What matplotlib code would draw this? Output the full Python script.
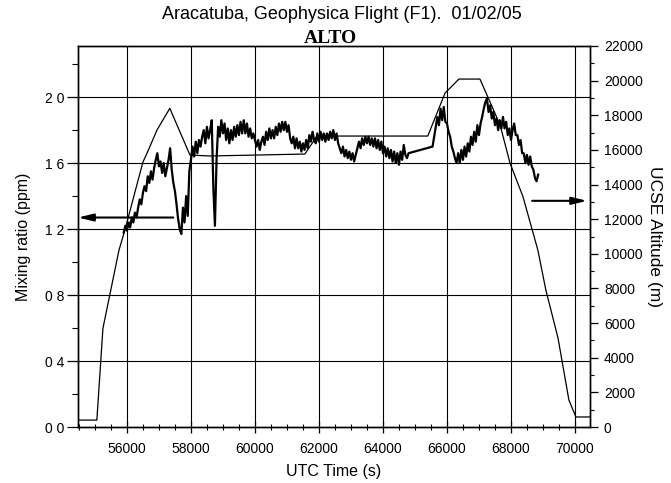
import matplotlib
matplotlib.use("Agg")
import matplotlib.pyplot as plt
import numpy as np
from matplotlib.ticker import MultipleLocator, FixedLocator, FuncFormatter

# UCSE altitude track: time (s UTC) and altitude (m)
ALT_TIME = [54500, 55060, 55250, 55750, 55940, 56500, 56625, 56940, 57340, 57970,
            58600, 61560, 61940, 65400, 65940, 66375, 67030, 67250, 67660, 67970,
            68375, 68840, 69090, 69470, 69810, 70030, 70500]
ALT_M = [400, 400, 5700, 10200, 11400, 15300, 15800, 17150, 18400, 15700,
         15650, 15760, 16800, 16800, 19280, 20090, 20090, 19170, 17440, 15240,
         13300, 10220, 7910, 5140, 1560, 580, 580]

# ALTO mixing ratio (ppm), sampled every 50 s, two stretches of data
MR_TIME_1 = np.arange(55900, 64801, 50)
MR_PPM_1 = [
    1.18, 1.22, 1.19, 1.24, 1.21, 1.27, 1.24, 1.30, 1.27, 1.33,
    1.38, 1.35, 1.42, 1.46, 1.43, 1.52, 1.48, 1.55, 1.50, 1.57,
    1.62, 1.66, 1.58, 1.61, 1.54, 1.60, 1.52, 1.57, 1.62, 1.69,
    1.56, 1.48, 1.43, 1.35, 1.26, 1.20, 1.17, 1.33, 1.24, 1.40,
    1.28, 1.55, 1.62, 1.70, 1.64, 1.73, 1.66, 1.74, 1.70, 1.76,
    1.80, 1.72, 1.82, 1.75, 1.80, 1.86, 1.45, 1.22, 1.62, 1.82,
    1.76, 1.86, 1.78, 1.84, 1.74, 1.81, 1.72, 1.80, 1.74, 1.82,
    1.76, 1.83, 1.77, 1.85, 1.78, 1.86, 1.78, 1.84, 1.76, 1.81,
    1.75, 1.78, 1.74, 1.70, 1.74, 1.68, 1.73, 1.76, 1.71, 1.79,
    1.74, 1.81, 1.75, 1.80, 1.75, 1.82, 1.77, 1.84, 1.79, 1.85,
    1.80, 1.85, 1.79, 1.83, 1.75, 1.72, 1.76, 1.69, 1.75, 1.69,
    1.73, 1.67, 1.72, 1.68, 1.74, 1.69, 1.77, 1.73, 1.79, 1.74,
    1.72, 1.78, 1.73, 1.79, 1.74, 1.78, 1.73, 1.78, 1.74, 1.79,
    1.75, 1.80, 1.74, 1.78, 1.72, 1.69, 1.66, 1.70, 1.64, 1.68,
    1.63, 1.67, 1.62, 1.66, 1.61, 1.65, 1.69, 1.73, 1.69, 1.75,
    1.71, 1.76, 1.72, 1.76, 1.71, 1.75, 1.70, 1.75, 1.69, 1.74,
    1.68, 1.73, 1.66, 1.70, 1.64, 1.69, 1.63, 1.68, 1.61, 1.67,
    1.60, 1.66, 1.59, 1.67, 1.62, 1.71, 1.65, 1.63, 1.66,
]
MR_TIME_2 = np.arange(65550, 68851, 50)
MR_PPM_2 = [
    1.70, 1.76, 1.82, 1.88, 1.83, 1.93, 1.86, 1.94, 1.85, 1.84,
    1.79, 1.76, 1.70, 1.67, 1.63, 1.60, 1.66, 1.60, 1.68, 1.62,
    1.70, 1.64, 1.72, 1.67, 1.76, 1.71, 1.79, 1.73, 1.83, 1.77,
    1.84, 1.88, 1.93, 1.97, 1.99, 1.91, 1.95, 1.87, 1.91, 1.83,
    1.87, 1.80, 1.86, 1.81, 1.88, 1.81, 1.85, 1.77, 1.81, 1.74,
    1.80, 1.84, 1.77, 1.77, 1.71, 1.74, 1.66, 1.66, 1.60, 1.65,
    1.59, 1.64, 1.58, 1.56, 1.51, 1.49, 1.53,
]

PPM_TICKS = [0.0, 0.4, 0.8, 1.2, 1.6, 2.0]
ALT_TICKS = list(range(0, 22001, 2000))
TIME_TICKS = list(range(56000, 70001, 2000))

plt.rcParams["font.family"] = ["Liberation Sans", "DejaVu Sans"]

fig = plt.figure(figsize=(6.71, 4.83), dpi=100)
ax = fig.add_axes([0.1162, 0.1159, 0.7631, 0.7889])
ax2 = ax.twinx()

mr_t = np.concatenate([MR_TIME_1, MR_TIME_2])
mr_v = np.concatenate([MR_PPM_1, MR_PPM_2])
ax.plot(mr_t, mr_v, color="black", lw=1.6, zorder=3)
ax2.plot(ALT_TIME, ALT_M, color="black", lw=0.9, zorder=3)

ax.set_xlim(54470, 70470)
ax.set_ylim(0, 2.31)
ax2.set_ylim(0, 22000)

# grid from the left axis
for t in TIME_TICKS:
    ax.axvline(t, color="black", lw=0.8, zorder=1)
for v in PPM_TICKS[1:]:
    ax.axhline(v, color="black", lw=0.8, zorder=1)

ax.xaxis.set_major_locator(FixedLocator(TIME_TICKS))
ax.xaxis.set_minor_locator(MultipleLocator(500))
ax.yaxis.set_major_locator(FixedLocator(PPM_TICKS))
ax.yaxis.set_minor_locator(MultipleLocator(0.2))
ax.yaxis.set_major_formatter(FuncFormatter(lambda v, p: f"{v:.1f}".replace(".", " ")))
ax2.yaxis.set_major_locator(FixedLocator(ALT_TICKS))
ax2.yaxis.set_minor_locator(MultipleLocator(1000))

ax.tick_params(axis="x", which="major", direction="inout", length=9, width=0.9,
               labelsize=10, pad=6, top=False)
ax.tick_params(axis="x", which="minor", direction="inout", length=5, width=0.8, top=False)
ax.tick_params(axis="y", which="major", direction="out", length=8, width=0.9,
               labelsize=10, pad=2, right=False)
ax.tick_params(axis="y", which="minor", direction="out", length=4, width=0.8, right=False)
ax2.tick_params(axis="y", which="major", direction="out", length=6, width=0.9,
                labelsize=10, pad=4)
ax2.tick_params(axis="y", which="minor", direction="out", length=3, width=0.8)

for a in (ax, ax2):
    for s in a.spines.values():
        s.set_linewidth(1.0)

# arrows pointing to the relevant axis
ax.annotate("", xy=(54470, 1.27), xytext=(57450, 1.27),
            arrowprops=dict(arrowstyle="-|>,head_length=0.9,head_width=0.22",
                            color="black", lw=1.5, shrinkA=0, shrinkB=0))
ax2.annotate("", xy=(70380, 13060), xytext=(68660, 13060),
             arrowprops=dict(arrowstyle="-|>,head_length=0.9,head_width=0.22",
                             color="black", lw=1.5, shrinkA=0, shrinkB=0))

ax.set_xlabel("UTC Time (s)", fontsize=11.5, labelpad=6)
ax.set_ylabel("Mixing ratio (ppm)", fontsize=11.5, labelpad=10)
ax2.set_ylabel("UCSE Altitude (m)", fontsize=12.5, rotation=270, labelpad=14)

fig.text(0.51, 0.971, "Aracatuba, Geophysica Flight (F1).  01/02/05",
         ha="center", va="center", fontsize=13)
fig.text(0.492, 0.921, "ALTO", ha="center", va="center", fontsize=14,
         fontweight="bold", family="Liberation Serif")

fig.savefig("out.png", dpi=100)
